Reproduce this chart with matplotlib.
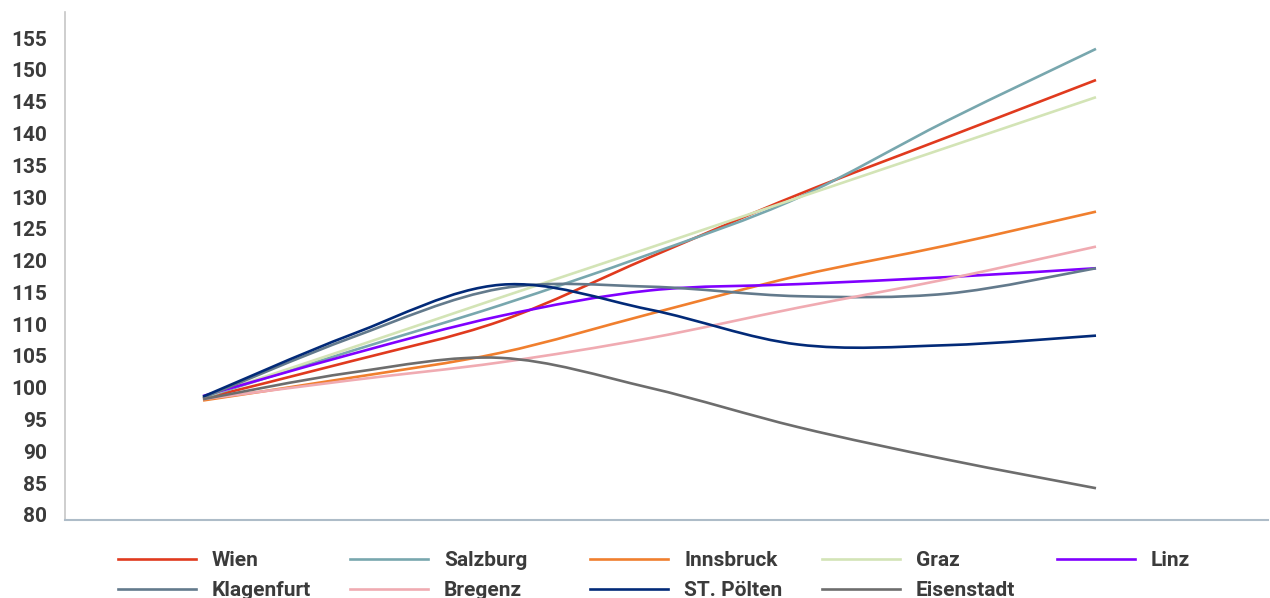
import numpy as np
import matplotlib
matplotlib.use('Agg')
import matplotlib.pyplot as plt
from matplotlib.path import Path
from matplotlib.patches import PathPatch
from matplotlib.lines import Line2D

# puntos del eje x (sin etiquetas en el original)
puntos = [0, 1, 2, 3, 4, 5, 6]

ciudades = ['Wien', 'Salzburg', 'Innsbruck', 'Graz', 'Linz',
            'Klagenfurt', 'Bregenz', 'ST. Pölten', 'Eisenstadt']

wien       = [98.3, 104.2, 110.5, 120.5, 130.4, 139.4, 148.4]
salzburg   = [98.4, 105.8, 113.0, 121.0, 129.9, 142.0, 153.3]
innsbruck  = [98.0, 101.6, 105.5, 111.6, 117.6, 122.4, 127.7]
graz       = [98.5, 106.3, 114.2, 122.0, 129.9, 137.8, 145.7]
linz       = [98.7, 105.3, 111.3, 115.3, 116.3, 117.4, 118.8]
klagenfurt = [98.4, 107.9, 115.6, 115.9, 114.4, 114.8, 118.8]
bregenz    = [98.2, 101.2, 104.0, 107.8, 112.6, 117.1, 122.2]
st_poelten = [98.6, 108.4, 116.2, 112.3, 106.8, 106.7, 108.2]
eisenstadt = [98.2, 102.4, 104.7, 100.0, 93.8, 88.7, 84.2]

series = [wien, salzburg, innsbruck, graz, linz,
          klagenfurt, bregenz, st_poelten, eisenstadt]

colores = ['#e03a1e', '#78a7ae', '#f07f2e', '#d3e4b6', '#8000ff',
           '#637a8c', '#f0abb2', '#022a78', '#6d6d6d']

ticks_y = list(range(80, 160, 5))


def curva_suave(xs, ys):
    # curva bezier tipo "linea suavizada" de Excel (catmull-rom)
    pts = np.column_stack([np.asarray(xs, float), np.asarray(ys, float)])
    ext = np.vstack([pts[0], pts, pts[-1]])
    verts = [pts[0]]
    codes = [Path.MOVETO]
    for i in range(len(pts) - 1):
        p0, p1, p2, p3 = ext[i], ext[i + 1], ext[i + 2], ext[i + 3]
        c1 = p1 + (p2 - p0) / 6.0
        c2 = p2 - (p3 - p1) / 6.0
        verts += [c1, c2, p2]
        codes += [Path.CURVE4] * 3
    return Path(verts, codes)


plt.rcParams['font.family'] = ['Roboto', 'DejaVu Sans']

fig = plt.figure(figsize=(12.7, 5.98), dpi=100)
W, H = 1270, 598
ax = fig.add_axes([65 / W, (H - 520) / H, (1268 - 65) / W, (520 - 12) / H])

for valores, color in zip(series, colores):
    patch = PathPatch(curva_suave(puntos, valores), fill=False,
                      edgecolor=color, lw=1.9, capstyle='butt', joinstyle='round')
    ax.add_patch(patch)

paso = (1096 - 203) / 6
ax.set_xlim(-(203 - 65) / paso, 6 + (1268 - 1096) / paso)
ax.set_ylim(79.2, 159.1)
ax.set_yticks(ticks_y)
ax.set_xticks([])

for s in ['top', 'right']:
    ax.spines[s].set_visible(False)
ax.spines['left'].set_color('#c6c6c6')
ax.spines['left'].set_linewidth(1.2)
ax.spines['bottom'].set_color('#aebcc8')
ax.spines['bottom'].set_linewidth(1.5)

ax.tick_params(axis='y', length=0, pad=13, labelsize=15, labelcolor='#3b3b3b')
for t in ax.get_yticklabels():
    t.set_fontweight('bold')

# leyenda colocada a mano: 5 columnas, 2 filas
col_x = [118, 350, 590, 822, 1057]
fila_y = [559, 589]
for i, (nombre, color) in enumerate(zip(ciudades, colores)):
    x0 = col_x[i % 5]
    y0 = fila_y[i // 5]
    fig.add_artist(Line2D([x0 / W, (x0 + 78) / W], [1 - y0 / H, 1 - y0 / H],
                          transform=fig.transFigure, color=color, lw=1.9))
    fig.text((x0 + 94) / W, 1 - y0 / H, nombre, ha='left', va='center_baseline',
             fontsize=15, fontweight='bold', color='#3b3b3b')

fig.savefig('out.png', dpi=100)
